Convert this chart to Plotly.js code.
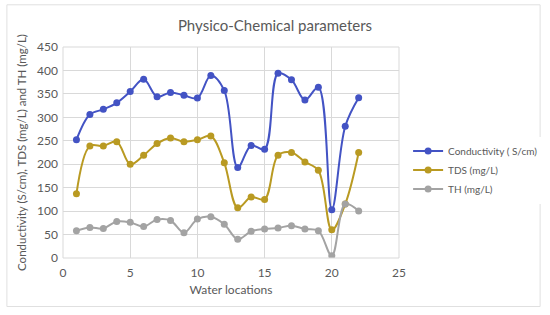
<!DOCTYPE html>
<html>
<head>
<meta charset="utf-8">
<script src="https://cdn.plot.ly/plotly-3.0.1.min.js"></script>
<style>
  html, body { margin: 0; padding: 0; background: #fff; }
  #chart { width: 550px; height: 315px; }
</style>
</head>
<body>
<div id="chart"></div>
<script>
// values
const locations = [1, 2, 3, 4, 5, 6, 7, 8, 9, 10, 11, 12, 13, 14, 15, 16, 17, 18, 19, 20, 21, 22];
const conductivity = [252, 306, 317, 331, 355, 381, 344, 353, 347, 341, 389, 357, 193, 240, 232, 394, 380, 337, 364, 103, 281, 342];
const tds = [137, 239, 239, 248, 200, 219, 244, 256, 248, 252, 260, 203, 107, 130, 125, 219, 225, 205, 187, 60, 115, 225];
const th = [58, 65, 63, 78, 76, 67, 82, 80, 54, 83, 88, 72, 40, 57, 62, 64, 69, 62, 58, 5, 115, 100];

const seriesNames = ['Conductivity ( S/cm)', 'TDS (mg/L)', 'TH (mg/L)'];
const seriesColors = ['#4353c4', '#b99a22', '#a3a3a3'];

function makeTrace(y, i) {
    return {
        x: locations,
        y: y,
        type: 'scatter',
        mode: 'lines+markers',
        name: seriesNames[i],
        line: { color: seriesColors[i], width: 2, shape: 'spline', smoothing: 1 },
        marker: { color: seriesColors[i], size: 7 }
    };
}

const data = [conductivity, tds, th].map(makeTrace);

const fam = 'Lato, Open Sans, Liberation Sans, sans-serif';
const axisFont = { family: fam, size: 12, color: '#595959' };

const layout = {
    width: 550,
    height: 315,
    margin: { l: 63, r: 151, t: 47, b: 57 },
    paper_bgcolor: '#fff',
    plot_bgcolor: '#fff',
    title: {
        text: 'Physico-Chemical parameters',
        font: { family: fam, size: 15, color: '#595959' },
        x: 0.5,
        xanchor: 'center',
        y: 0.935
    },
    xaxis: {
        range: [0, 25],
        dtick: 5,
        tick0: 0,
        showgrid: true,
        gridcolor: '#d9d9d9',
        zeroline: false,
        showline: false,
        tickfont: axisFont,
        ticks: '',
        ticklabelstandoff: 6,
        automargin: false,
        title: { text: 'Water locations', font: axisFont, standoff: 6 }
    },
    yaxis: {
        range: [0, 450],
        dtick: 50,
        showgrid: true,
        gridcolor: '#d9d9d9',
        zeroline: false,
        showline: false,
        tickfont: axisFont,
        ticks: '',
        ticklabelstandoff: 4,
        automargin: false,
        title: { text: 'Conductivity (S/cm), TDS (mg/L) and TH (mg/L)', font: { family: fam, size: 11.5, color: '#595959' }, standoff: 8 }
    },
    legend: {
        xref: 'container',
        yref: 'container',
        x: 0.742,
        y: 0.46,
        xanchor: 'left',
        yanchor: 'middle',
        font: { family: fam, size: 10, color: '#595959' },
        itemwidth: 30,
        tracegroupgap: 0
    },
    shapes: [
        { type: 'rect', xref: 'paper', yref: 'paper', x0: 0, x1: 1, y0: 0, y1: 1, line: { color: '#d9d9d9', width: 1 } },
        { type: 'rect', xref: 'paper', yref: 'paper', x0: -0.167, x1: 1.42, y0: -0.23, y1: 1.2, line: { color: '#e0e0e0', width: 1 } }
    ]
};

Plotly.newPlot('chart', data, layout, { displayModeBar: false, staticPlot: true });
</script>
</body>
</html>
